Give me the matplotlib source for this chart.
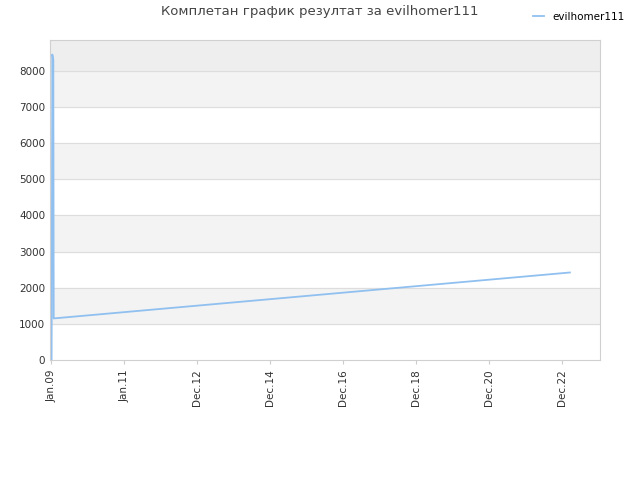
import numpy as np
import pandas as pd
from matplotlib import pyplot as plt

dates = pd.to_datetime(['2009-01-05', '2009-01-12', '2009-01-22', '2009-01-26', '2023-03-15'])
scores = [0, 8450, 8300, 1150, 2420]
tick_dates = pd.to_datetime('2009-01-01') + pd.to_timedelta(np.arange(8) * 730, unit='D')
tick_labels = [d.strftime('%b.%y') for d in tick_dates]

fig = plt.figure(figsize=(6.4, 4.8), dpi=100)
ax = fig.add_axes([50 / 640, 120 / 480, 550 / 640, 320 / 480])
ymax = 8850
for lo in range(1000, 8000, 2000):
    ax.axhspan(lo, lo + 1000, color='#f3f3f3', zorder=0)
ax.axhspan(8000, ymax, color='#eeeeee', zorder=0)
for y in range(1000, 9000, 1000):
    ax.axhline(y, color='#dddddd', lw=0.8, zorder=1)

ax.plot(dates, scores, color='#90c0f0', lw=1.3, zorder=2, label='evilhomer111')
ax.set_xlim(pd.to_datetime('2008-12-20'), pd.to_datetime('2024-01-10'))
ax.set_ylim(0, ymax)
ax.set_yticks(range(0, 9000, 1000))
ax.set_xticks(tick_dates)
ax.set_xticklabels(tick_labels, rotation=90, fontsize=7.5, color='#333333')
ax.tick_params(axis='y', labelsize=7.5, colors='#333333', length=0)
ax.tick_params(axis='x', length=3, color='#cccccc')
for s in ax.spines.values():
    s.set_color('#d0d0d0')

fig.text(0.5, 1 - 12 / 480, 'Комплетан график резултат за evilhomer111', ha='center', va='center',
         fontsize=9.5, color='#444444')
fig.legend(loc='upper right', bbox_to_anchor=(0.99, 0.995), frameon=False, fontsize=7.5,
           handlelength=1.0)
fig.savefig('out.png')
